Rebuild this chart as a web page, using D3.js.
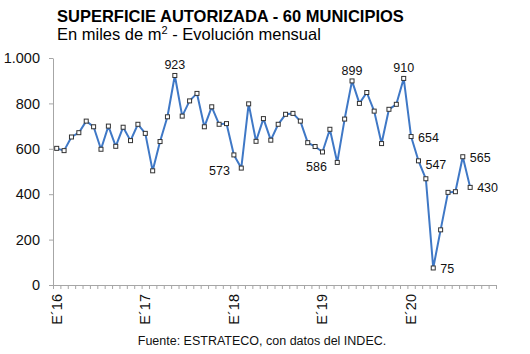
<!DOCTYPE html>
<html>
<head>
<meta charset="utf-8">
<script src="https://cdnjs.cloudflare.com/ajax/libs/d3/7.8.5/d3.min.js"></script>
<style>
    body { margin: 0; background: #fff; }
    svg { font-family: "Liberation Sans", Arial, sans-serif; }
    .axis path, .axis line { stroke: #a6a6a6; }
</style>
</head>
<body>
<div id="chartContainer"></div>
<script>
// months Jan 2016 - Dec 2020 (axis), data until Sep 2020
var years = ["16", "17", "18", "19", "20"];
var monthCodes = ["E", "F", "M", "A", "M", "J", "J", "A", "S", "O", "N", "D"];
var yearLabels = ["E´16", "E´17", "E´18", "E´19", "E´20"];

var values = [
    602, 592, 652, 671, 722, 697, 598, 700, 611, 695, 636, 708,
    668, 503, 632, 741, 923, 744, 811, 844, 697, 785, 708, 711,
    573, 515, 798, 633, 733, 638, 708, 752, 756, 722, 627, 610,
    586, 686, 540, 731, 899, 800, 848, 766, 623, 774, 796, 910,
    654, 547, 468, 75, 243, 408, 411, 565, 430
];
var yTicks = [0, 200, 400, 600, 800, 1000];
// points that carry a value label
var labeled = [16, 24, 36, 40, 47, 48, 49, 51, 55, 56];

var categories = [];
years.forEach(function (y) {
    monthCodes.forEach(function (m, i) { categories.push(m + "´" + y + "-" + i); });
});
var data = values.map(function (v, i) { return { key: categories[i], value: v, i: i }; });

var W = 530, H = 354;
var margin = { top: 58, right: 34, bottom: 69, left: 53 };
var width = W - margin.left - margin.right;
var height = H - margin.top - margin.bottom;

var svg = d3.select("#chartContainer")
    .append("svg")
    .attr("width", W)
    .attr("height", H);

svg.append("text")
    .attr("x", 57)
    .attr("y", 22)
    .attr("font-size", "16.5px")
    .attr("font-weight", "bold")
    .attr("fill", "#000")
    .text("SUPERFICIE AUTORIZADA - 60 MUNICIPIOS");

var sub = svg.append("text")
    .attr("x", 57)
    .attr("y", 40)
    .attr("font-size", "16.5px")
    .attr("fill", "#000");
sub.append("tspan").text("En miles de m");
sub.append("tspan").attr("font-size", "11px").attr("dy", "-6").text("2");
sub.append("tspan").attr("dy", "6").text(" - Evolución mensual");

var g = svg.append("g")
    .attr("transform", "translate(" + margin.left + "," + margin.top + ")");

var x = d3.scaleBand()
    .domain(categories)
    .range([0, width])
    .padding(0);
var xTick = d3.scaleLinear()
    .domain([0, categories.length])
    .range([0, width]);
var y = d3.scaleLinear()
    .domain([0, 1000])
    .range([height, 0]);

// x-axis: a tick at every month boundary
g.append("g")
    .attr("class", "axis axis--x")
    .attr("transform", "translate(0," + height + ")")
    .call(d3.axisBottom(xTick).tickValues(d3.range(0, categories.length + 1)).tickSize(4).tickSizeOuter(4).tickFormat(""));

// January labels, rotated
g.selectAll(".yearLabel")
    .data(yearLabels)
    .enter().append("text")
    .attr("class", "yearLabel")
    .attr("transform", function (d, i) {
        var cx = x(categories[i * 12]) + x.bandwidth() / 2;
        return "translate(" + (cx + 5) + "," + (height + 9) + ") rotate(-90)";
    })
    .attr("text-anchor", "end")
    .attr("font-size", "14.5px")
    .attr("fill", "#111")
    .text(function (d) { return d; });

// y-axis
g.append("g")
    .attr("class", "axis axis--y")
    .call(d3.axisLeft(y).tickValues(yTicks).tickSize(4).tickSizeOuter(0)
        .tickFormat(function (d) { return d3.format(",")(d).replace(",", "."); }))
    .selectAll("text")
    .attr("font-size", "14.5px")
    .attr("fill", "#111")
    .attr("x", -13);

var line = d3.line()
    .x(function (d) { return x(d.key) + x.bandwidth() / 2; })
    .y(function (d) { return y(d.value); });

g.append("path")
    .datum(data)
    .attr("fill", "none")
    .attr("stroke", "#3f78c6")
    .attr("stroke-width", 2)
    .attr("stroke-linejoin", "round")
    .attr("d", line);

g.selectAll(".dot")
    .data(data)
    .enter().append("rect")
    .attr("class", "dot")
    .attr("x", function (d) { return x(d.key) + x.bandwidth() / 2 - 2; })
    .attr("y", function (d) { return y(d.value) - 2; })
    .attr("width", 4)
    .attr("height", 4)
    .attr("fill", "#fff")
    .attr("stroke", "#333")
    .attr("stroke-width", 1);

// value labels
var place = { 16: "top", 40: "top", 47: "top", 24: "belowLeft", 36: "below" };
g.selectAll(".vlabel")
    .data(data.filter(function (d) { return labeled.indexOf(d.i) >= 0; }))
    .enter().append("text")
    .attr("class", "vlabel")
    .attr("font-size", "12.5px")
    .attr("fill", "#111")
    .attr("text-anchor", function (d) {
        var p = place[d.i];
        if (p === "top" || p === "below") return "middle";
        if (p === "belowLeft") return "end";
        return "start";
    })
    .attr("x", function (d) {
        var cx = x(d.key) + x.bandwidth() / 2;
        var p = place[d.i];
        if (p === "top") return cx;
        if (p === "below") return cx - 6;
        if (p === "belowLeft") return cx - 4;
        return cx + 7;
    })
    .attr("y", function (d) {
        var cy = y(d.value);
        var p = place[d.i];
        if (p === "top") return cy - 6;
        if (p === "below") return cy + 19;
        if (p === "belowLeft") return cy + 20;
        if (d.i === 49) return cy + 8;
        return cy + 5;
    })
    .text(function (d) { return d.value; });

svg.append("text")
    .attr("x", 262)
    .attr("y", 345)
    .attr("text-anchor", "middle")
    .attr("font-size", "12.5px")
    .attr("fill", "#111")
    .text("Fuente: ESTRATECO, con datos del INDEC.");
</script>
</body>
</html>
